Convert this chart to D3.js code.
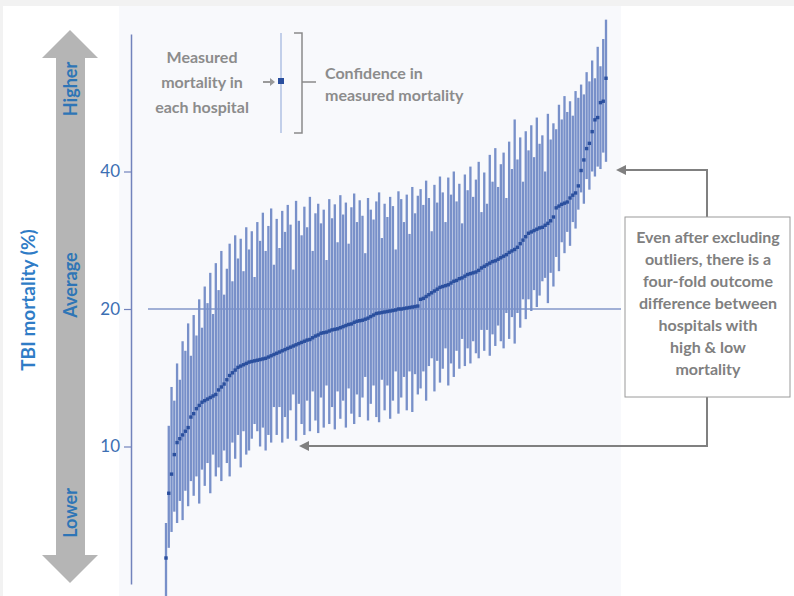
<!DOCTYPE html>
<html>
<head>
<meta charset="utf-8">
<script src="https://cdn.jsdelivr.net/npm/d3@7/dist/d3.min.js"></script>
<style>
  html, body { margin: 0; padding: 0; background: #ffffff; }
  svg { display: block; }
</style>
</head>
<body>
<svg id="chart" width="794" height="596"></svg>
<script>
// TBI mortality (%) per hospital, sorted by measured mortality,
// with the confidence interval of each measurement.
const measured = [
  5.7, 7.9, 8.7, 9.6, 10.2, 10.4, 10.6, 10.8, 11.0, 11.6,
  11.8, 12.1, 12.3, 12.5, 12.6, 12.7, 12.8, 12.9, 13.0, 13.3,
  13.5, 13.7, 14.0, 14.3, 14.5, 14.7, 14.9, 15.0, 15.1, 15.2,
  15.3, 15.35, 15.4, 15.45, 15.5, 15.55, 15.6, 15.7, 15.8, 15.9,
  16.0, 16.1, 16.2, 16.3, 16.4, 16.5, 16.6, 16.7, 16.8, 16.9,
  17.0, 17.1, 17.15, 17.3, 17.45, 17.55, 17.7, 17.75, 17.8, 17.9,
  18.0, 18.05, 18.1, 18.2, 18.3, 18.4, 18.5, 18.55, 18.7, 18.8,
  18.85, 18.9, 19.0, 19.1, 19.25, 19.4, 19.55, 19.6, 19.65, 19.7,
  19.75, 19.8, 19.85, 19.9, 20.0, 20.0, 20.05, 20.1, 20.15, 20.2,
  20.25, 20.3, 21.0, 21.1, 21.3, 21.5, 21.7, 21.9, 22.1, 22.3,
  22.4, 22.5, 22.6, 22.8, 23.0, 23.1, 23.3, 23.4, 23.6, 23.8,
  23.9, 24.0, 24.1, 24.3, 24.6, 24.8, 25.0, 25.2, 25.4, 25.5,
  25.7, 25.9, 26.1, 26.3, 26.6, 26.8, 27.0, 27.3, 27.8, 28.3,
  28.8, 29.3, 29.5, 29.7, 29.9, 30.1, 30.2, 30.5, 30.8, 31.2,
  31.8, 33.3, 33.6, 33.9, 34.1, 34.3, 35.0, 35.5, 35.9, 37.2,
  40.2, 42.4, 44.9, 46.1, 48.9, 51.9, 52.5, 56.6, 57.0, 64.0
];
const upper = [
  6.8, 11.1, 13.5, 12.6, 15.2, 14.0, 17.0, 16.2, 18.6, 15.8,
  19.4, 17.5, 21.0, 18.2, 22.4, 20.6, 24.0, 19.5, 25.2, 22.0,
  26.8, 21.5, 24.5, 27.8, 23.0, 29.0, 25.8, 28.5, 24.2, 30.2,
  27.0, 29.6, 23.5, 31.0, 28.2, 32.5, 26.8, 30.4, 33.2, 25.0,
  31.5, 27.2, 32.8, 29.5, 33.8, 30.6, 24.4, 34.5, 31.2, 29.0,
  33.5, 30.2, 35.2, 26.8, 32.4, 34.0, 30.8, 33.0, 25.6, 34.8,
  31.6, 33.9, 28.0, 35.5, 32.2, 34.2, 27.8, 33.4, 35.8, 31.0,
  34.6, 32.0, 26.5, 35.0, 33.0, 31.4, 34.4, 36.0, 28.6, 34.0,
  31.8, 35.2, 33.6, 27.0, 36.2, 34.8, 31.0, 35.6, 29.2, 37.0,
  32.4, 35.4, 36.6, 33.8, 38.2, 35.0, 29.6, 37.4, 34.2, 39.0,
  36.0, 31.0, 38.8, 35.6, 40.0, 34.4, 37.6, 30.8, 39.4, 36.4,
  41.0, 35.2, 38.4, 42.0, 32.6, 39.8, 34.0, 43.5, 38.0, 45.0,
  37.0, 41.5, 44.0, 35.0, 46.5, 40.5, 52.0, 42.5, 47.5, 38.0,
  49.0, 44.5, 50.5, 43.0, 52.5, 46.0, 48.0, 40.0, 53.5, 47.0,
  51.0, 49.5, 56.0, 52.0, 58.5, 54.0, 57.0, 53.0, 60.0, 58.0,
  62.0, 59.0, 66.0, 63.0, 70.0, 64.0, 75.0, 68.0, 78.0, 86.0
];
const lower = [
  4.7, 6.0, 6.5, 7.2, 6.8, 7.6, 6.9, 8.0, 7.4, 8.4,
  7.8, 8.6, 7.5, 8.9, 8.2, 9.2, 7.9, 9.6, 8.6, 9.0,
  8.4, 9.8, 9.2, 8.6, 10.2, 9.4, 10.6, 9.0, 10.8, 9.6,
  9.8, 10.4, 11.2, 10.8, 10.0, 11.0, 9.8, 10.6, 10.2, 12.2,
  10.6, 12.2, 10.2, 11.6, 10.4, 12.0, 13.0, 10.3, 12.4, 11.2,
  10.6, 12.6, 10.8, 13.2, 11.4, 10.7, 12.8, 11.0, 13.6, 11.2,
  12.2, 10.9, 13.2, 11.5, 12.6, 11.0, 13.4, 11.8, 11.2, 13.0,
  11.6, 12.8, 14.2, 11.4, 12.4, 13.6, 11.6, 11.3, 14.0, 12.0,
  13.6, 11.5, 12.6, 14.6, 11.8, 12.8, 14.2, 12.0, 14.6, 11.9,
  14.4, 13.0, 13.4, 14.6, 12.6, 15.0, 15.6, 13.2, 15.4, 13.8,
  14.8, 16.4, 13.6, 15.2, 14.2, 16.2, 14.8, 17.2, 15.0, 16.4,
  15.2, 17.0, 16.0, 15.6, 18.0, 16.2, 18.0, 15.8, 17.6, 16.6,
  18.4, 17.0, 16.4, 19.6, 17.2, 19.2, 16.8, 19.6, 18.2, 21.0,
  19.0, 21.0, 19.8, 22.0, 20.2, 21.4, 23.0, 23.4, 20.6, 24.0,
  22.4, 26.0, 24.2, 28.0, 26.5, 29.5, 27.5, 31.0, 30.0, 33.0,
  36.0, 34.0, 38.5, 36.5, 40.0, 39.0, 41.0, 40.5, 44.0, 42.0
];
const hospitals = measured.map((_, i) => i + 1);
const tickValues = [10, 20, 40];
const averageMortality = 20;
const arrowLabels = ["Higher", "Average", "Lower"];
const legendLeft = ["Measured", "mortality in", "each hospital"];
const legendRight = ["Confidence in", "measured mortality"];
const noteLines = ["Even after excluding", "outliers, there is a", "four-fold outcome",
  "difference between", "hospitals with", "high & low", "mortality"];

const svg = d3.select("#chart");
const font = "Lato, 'Open Sans', sans-serif";
const grey = "#808080";
const blueText = "#2e75b6";

// page backdrop
svg.append("rect").attr("x", 0).attr("y", 0).attr("width", 794).attr("height", 596).attr("fill", "#f2f2f2");
svg.append("rect").attr("x", 3).attr("y", 6).attr("width", 791).attr("height", 590).attr("fill", "#ffffff");
svg.append("rect").attr("x", 119).attr("y", 6).attr("width", 502).attr("height", 590).attr("fill", "#f8f9fc");

// scales
const x = d3.scalePoint().domain(hospitals).range([166, 606]);
const y = d3.scaleLog().domain([5, 80]).range([584, 34]);
const step = x.step();

// average reference line
svg.append("line")
  .attr("x1", 148).attr("x2", 621)
  .attr("y1", y(averageMortality)).attr("y2", y(averageMortality))
  .attr("stroke", "#4a68b0").attr("stroke-width", 1.2);

// confidence intervals
svg.append("g").selectAll("rect")
  .data(hospitals)
  .join("rect")
  .attr("x", (d) => x(d) - step * 0.42)
  .attr("width", step * 0.84)
  .attr("y", (d, i) => y(upper[i]))
  .attr("height", (d, i) => y(lower[i]) - y(upper[i]))
  .attr("fill", "#7890c9");

// measured mortality
svg.append("g").selectAll("rect")
  .data(hospitals)
  .join("rect")
  .attr("x", (d) => x(d) - 1.7)
  .attr("y", (d, i) => y(measured[i]) - 1.7)
  .attr("width", 3.4).attr("height", 3.4)
  .attr("fill", "#2a4f9e");

// y axis
const axis = d3.axisLeft(y).tickValues(tickValues).tickFormat(d3.format("d")).tickSize(7).tickSizeOuter(0).tickPadding(4);
const gAxis = svg.append("g").attr("transform", "translate(131,0)").call(axis);
gAxis.select(".domain").attr("stroke", "#7283bc").attr("stroke-width", 1.5);
gAxis.selectAll(".tick line").attr("stroke", "#7283bc").attr("stroke-width", 1.2);
gAxis.selectAll(".tick text").attr("fill", "#3d6fb3").attr("font-family", font).attr("font-size", 17);

// big double-headed arrow
const arrow = d3.path();
arrow.moveTo(70, 30); arrow.lineTo(98, 58); arrow.lineTo(85, 58); arrow.lineTo(85, 555);
arrow.lineTo(98, 555); arrow.lineTo(70, 583); arrow.lineTo(42, 555); arrow.lineTo(56, 555);
arrow.lineTo(56, 58); arrow.lineTo(42, 58); arrow.closePath();
svg.append("path").attr("d", arrow.toString()).attr("fill", "#b5b5b5");
const arrowPos = [89, 285, 513];
arrowLabels.forEach((t, i) => {
  svg.append("text")
    .attr("transform", `translate(77,${arrowPos[i]}) rotate(-90)`)
    .attr("text-anchor", "middle")
    .attr("font-family", font).attr("font-weight", "bold").attr("font-size", 18)
    .attr("fill", blueText).text(t);
});

// axis title
svg.append("text")
  .attr("transform", "translate(35,300) rotate(-90)")
  .attr("text-anchor", "middle")
  .attr("font-family", font).attr("font-weight", "bold").attr("font-size", 19)
  .attr("fill", "#2f7cc6").text("TBI mortality (%)");

// legend
const leg = svg.append("g").attr("font-family", font).attr("font-weight", "bold").attr("font-size", 16).attr("fill", "#8c8c8c");
legendLeft.forEach((t, i) => {
  leg.append("text").attr("x", 202).attr("y", 63 + i * 25).attr("text-anchor", "middle").text(t);
});
legendRight.forEach((t, i) => {
  leg.append("text").attr("x", 325).attr("y", 79 + i * 22).text(t);
});
svg.append("line").attr("x1", 281).attr("x2", 281).attr("y1", 33).attr("y2", 133)
  .attr("stroke", "#9eb3dd").attr("stroke-width", 1.2);
svg.append("rect").attr("x", 278).attr("y", 78).attr("width", 6).attr("height", 6).attr("fill", "#2a4f9e");
svg.append("path").attr("d", "M263,82H271").attr("stroke", "#9a9a9a").attr("stroke-width", 2);
svg.append("path").attr("d", "M270,78L275,82L270,86Z").attr("fill", "#9a9a9a");
svg.append("path").attr("d", "M294,33H302V133H294M302,82H316")
  .attr("fill", "none").attr("stroke", "#8a8a8a").attr("stroke-width", 1.5);

// annotation arrows and box
const connector = "#808080";
svg.append("path").attr("d", "M707,217V170H624").attr("fill", "none").attr("stroke", connector).attr("stroke-width", 2);
svg.append("path").attr("d", "M616,170L626,165L626,175Z").attr("fill", connector);
svg.append("path").attr("d", "M707,397V446H307").attr("fill", "none").attr("stroke", connector).attr("stroke-width", 2);
svg.append("path").attr("d", "M299,446L309,441L309,451Z").attr("fill", connector);
svg.append("rect").attr("x", 625).attr("y", 217).attr("width", 165).attr("height", 180)
  .attr("fill", "#ffffff").attr("stroke", "#9a9a9a").attr("stroke-width", 1);
const note = svg.append("g").attr("font-family", font).attr("font-weight", "bold").attr("font-size", 16).attr("fill", grey);
noteLines.forEach((t, i) => {
  note.append("text").attr("x", 708).attr("y", 243 + i * 22).attr("text-anchor", "middle").text(t);
});
</script>
</body>
</html>
